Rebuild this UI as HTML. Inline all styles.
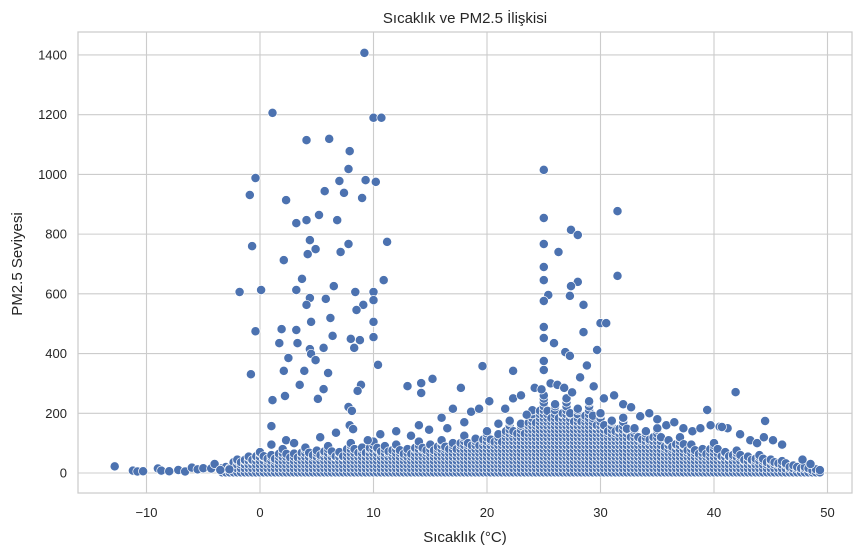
<!DOCTYPE html>
<html><head><meta charset="utf-8"><style>
html,body{margin:0;padding:0;background:#fff;}
svg text{font-family:"Liberation Sans",DejaVu Sans,sans-serif;fill:#262626;}
</style></head><body>
<svg id="chart" width="862" height="553" viewBox="0 0 862 553" xmlns="http://www.w3.org/2000/svg">
<g id="grid"></g>
<g id="marks"></g>
<rect x="78" y="32" width="774" height="461" fill="none" stroke="#cccccc" stroke-width="1.25"/>
<g id="ticks"></g>
<text x="465" y="23" text-anchor="middle" font-size="15">Sıcaklık ve PM2.5 İlişkisi</text>
<text x="465" y="542" text-anchor="middle" font-size="15">Sıcaklık (°C)</text>
<text x="22" y="264" text-anchor="middle" font-size="15" transform="rotate(-90 22 264)">PM2.5 Seviyesi</text>
</svg>
<script>
const xTicks=[-10,0,10,20,30,40,50];
const yTicks=[0,200,400,600,800,1000,1200,1400];
// upper edge of dense cloud per temperature (1°C bins starting at -3)
const envTemp=[-3,-2,-1,0,1,2,3,4,5,6,7,8,9,10,11,12,13,14,15,16,17,18,19,20,21,22,23,24,25,26,27,28,29,30,31,32,33,34,35,36,37,38,39,40,41,42,43,44,45,46,47,48,49];
const envPM=[20,45,55,70,60,80,65,85,75,90,70,100,85,105,90,95,80,105,95,110,100,125,115,140,130,175,165,210,260,230,250,215,240,200,175,185,150,140,150,110,120,95,80,100,70,75,55,60,45,40,25,20,12];
// sparse scattered points (cold tail and above-band points)
const midTemp=[-12.8,-11.2,-10.8,-10.3,-9,-8.7,-8,-7.2,-6.6,-6,-5.5,-5,-4.3,-4,-3.5,-2.7,1,2.3,3,5.3,6.7,7.9,9.5,10.6,12,13.3,14,14.9,16,16.5,17,18,18.6,19.3,20.2,21,21.6,22.3,23,23.5,24.2,24.8,25.6,26.2,26.8,27.5,28.2,28.8,29.4,30.3,31.2,32,32.7,33.5,34.3,35,35.8,36.5,37.3,38.1,38.8,39.7,40.5,41.2,42.3,43.2,43.8,44.4,45.2,46,47.8,48.5];
const midPM=[22,8,5,6,15,8,6,10,5,18,12,16,15,30,10,12,95,110,100,120,135,160,110,130,140,125,160,145,185,150,215,170,205,215,240,165,215,250,260,195,285,280,300,295,285,270,320,360,290,250,260,230,220,190,200,180,160,170,150,140,150,160,155,150,130,110,100,120,110,95,45,30];
const outTemp=[9.2,1.1,10,10.7,6.1,4.1,7.9,-0.4,7,9.3,10.2,7.8,-0.9,2.3,9,7.4,5.7,5.2,4.1,3.2,6.8,-0.7,4.9,4.4,7.8,11.2,7.1,4.2,2.1,3.7,10.9,0.1,-1.8,3.2,6.5,10,8.4,10,4.4,5.8,1.9,-0.4,3.2,4.1,9.1,8.5,6.2,4.5,10,1.7,3.3,6.4,8.8,10,8,4.4,5.6,2.5,8.3,4.5,-0.8,10.4,4.9,2.1,3.9,6,3.5,5.6,8.9,8.6,1.1,2.2,5.1,7.8,1,8.2,8.1,13,14.2,15.2,14.2,17.7,25,25,31.5,27.4,28,25,26.3,25,25,25.4,28,31.5,27.4,27.3,28.5,25,25,28.5,30,30.5,25.9,26.9,27.3,25,25,25,22.3,19.6,29.7,39.4,41.9,40.7,44.5];
const outPM=[1407,1206,1190,1190,1119,1115,1078,988,978,981,975,1018,931,914,921,938,944,864,847,837,847,760,750,780,767,774,740,733,713,650,646,613,606,613,626,606,606,579,586,583,482,475,479,563,563,546,519,506,506,435,435,459,445,455,449,415,419,385,419,399,331,362,378,342,342,335,295,281,295,275,244,258,248,221,157,147,208,291,301,315,268,285,1015,854,877,814,797,767,740,690,646,596,640,660,626,593,563,576,489,472,502,502,435,405,392,452,375,345,342,358,412,211,271,154,174];
const X=t=>260+t*11.35, Y=v=>473-v*0.2986;
const NS='http://www.w3.org/2000/svg';
const grid=document.getElementById('grid'),ticks=document.getElementById('ticks'),marks=document.getElementById('marks');
xTicks.forEach(t=>{
 const l=document.createElementNS(NS,'line');
 
 
 l.setAttribute('x1',X(t));l.setAttribute('x2',X(t));l.setAttribute('y1',32);l.setAttribute('y2',493);l.setAttribute('stroke','#cccccc');l.setAttribute('stroke-width','1.1');grid.appendChild(l);
 const tx=document.createElementNS(NS,'text');
 
 
 tx.setAttribute('x',X(t));tx.setAttribute('y',517);tx.setAttribute('text-anchor','middle');tx.setAttribute('font-size','13');tx.textContent=t<0?'\u2212'+(-t):t;ticks.appendChild(tx);
});
yTicks.forEach(v=>{
 const l=document.createElementNS(NS,'line');
 
 
 l.setAttribute('x1',78);l.setAttribute('x2',852);l.setAttribute('y1',Y(v));l.setAttribute('y2',Y(v));l.setAttribute('stroke','#cccccc');l.setAttribute('stroke-width','1.1');grid.appendChild(l);
 const tx=document.createElementNS(NS,'text');
 
 
 tx.setAttribute('x',67);tx.setAttribute('y',Y(v)+4.5);tx.setAttribute('text-anchor','end');tx.setAttribute('font-size','13');tx.textContent=v;ticks.appendChild(tx);
});
function dot(t,v,name){
 const c=document.createElementNS(NS,'circle');
 
 
 c.setAttribute('cx',X(t).toFixed(1));c.setAttribute('cy',Y(v).toFixed(1));c.setAttribute('r','4.6');
 c.setAttribute('fill','#4c72b0');c.setAttribute('stroke','#ffffff');c.setAttribute('stroke-width','0.7');
 marks.appendChild(c);
}
for(let i=0;i<envTemp.length;i++){
 const top=envPM[i];
 for(let k=0;k<3;k++){
  const t=envTemp[i]-0.33+k*0.33;
  const h=top*(k===1?1:0.8);
  for(let v=2;v<=h;v+=13){dot(t,v,'dense-point');}
  dot(t,h,'dense-point');
 }
}
for(let i=0;i<midTemp.length;i++) dot(midTemp[i],midPM[i],'scatter-point');
for(let i=0;i<outTemp.length;i++) dot(outTemp[i],outPM[i],'outlier-point');
</script>
</body></html>
